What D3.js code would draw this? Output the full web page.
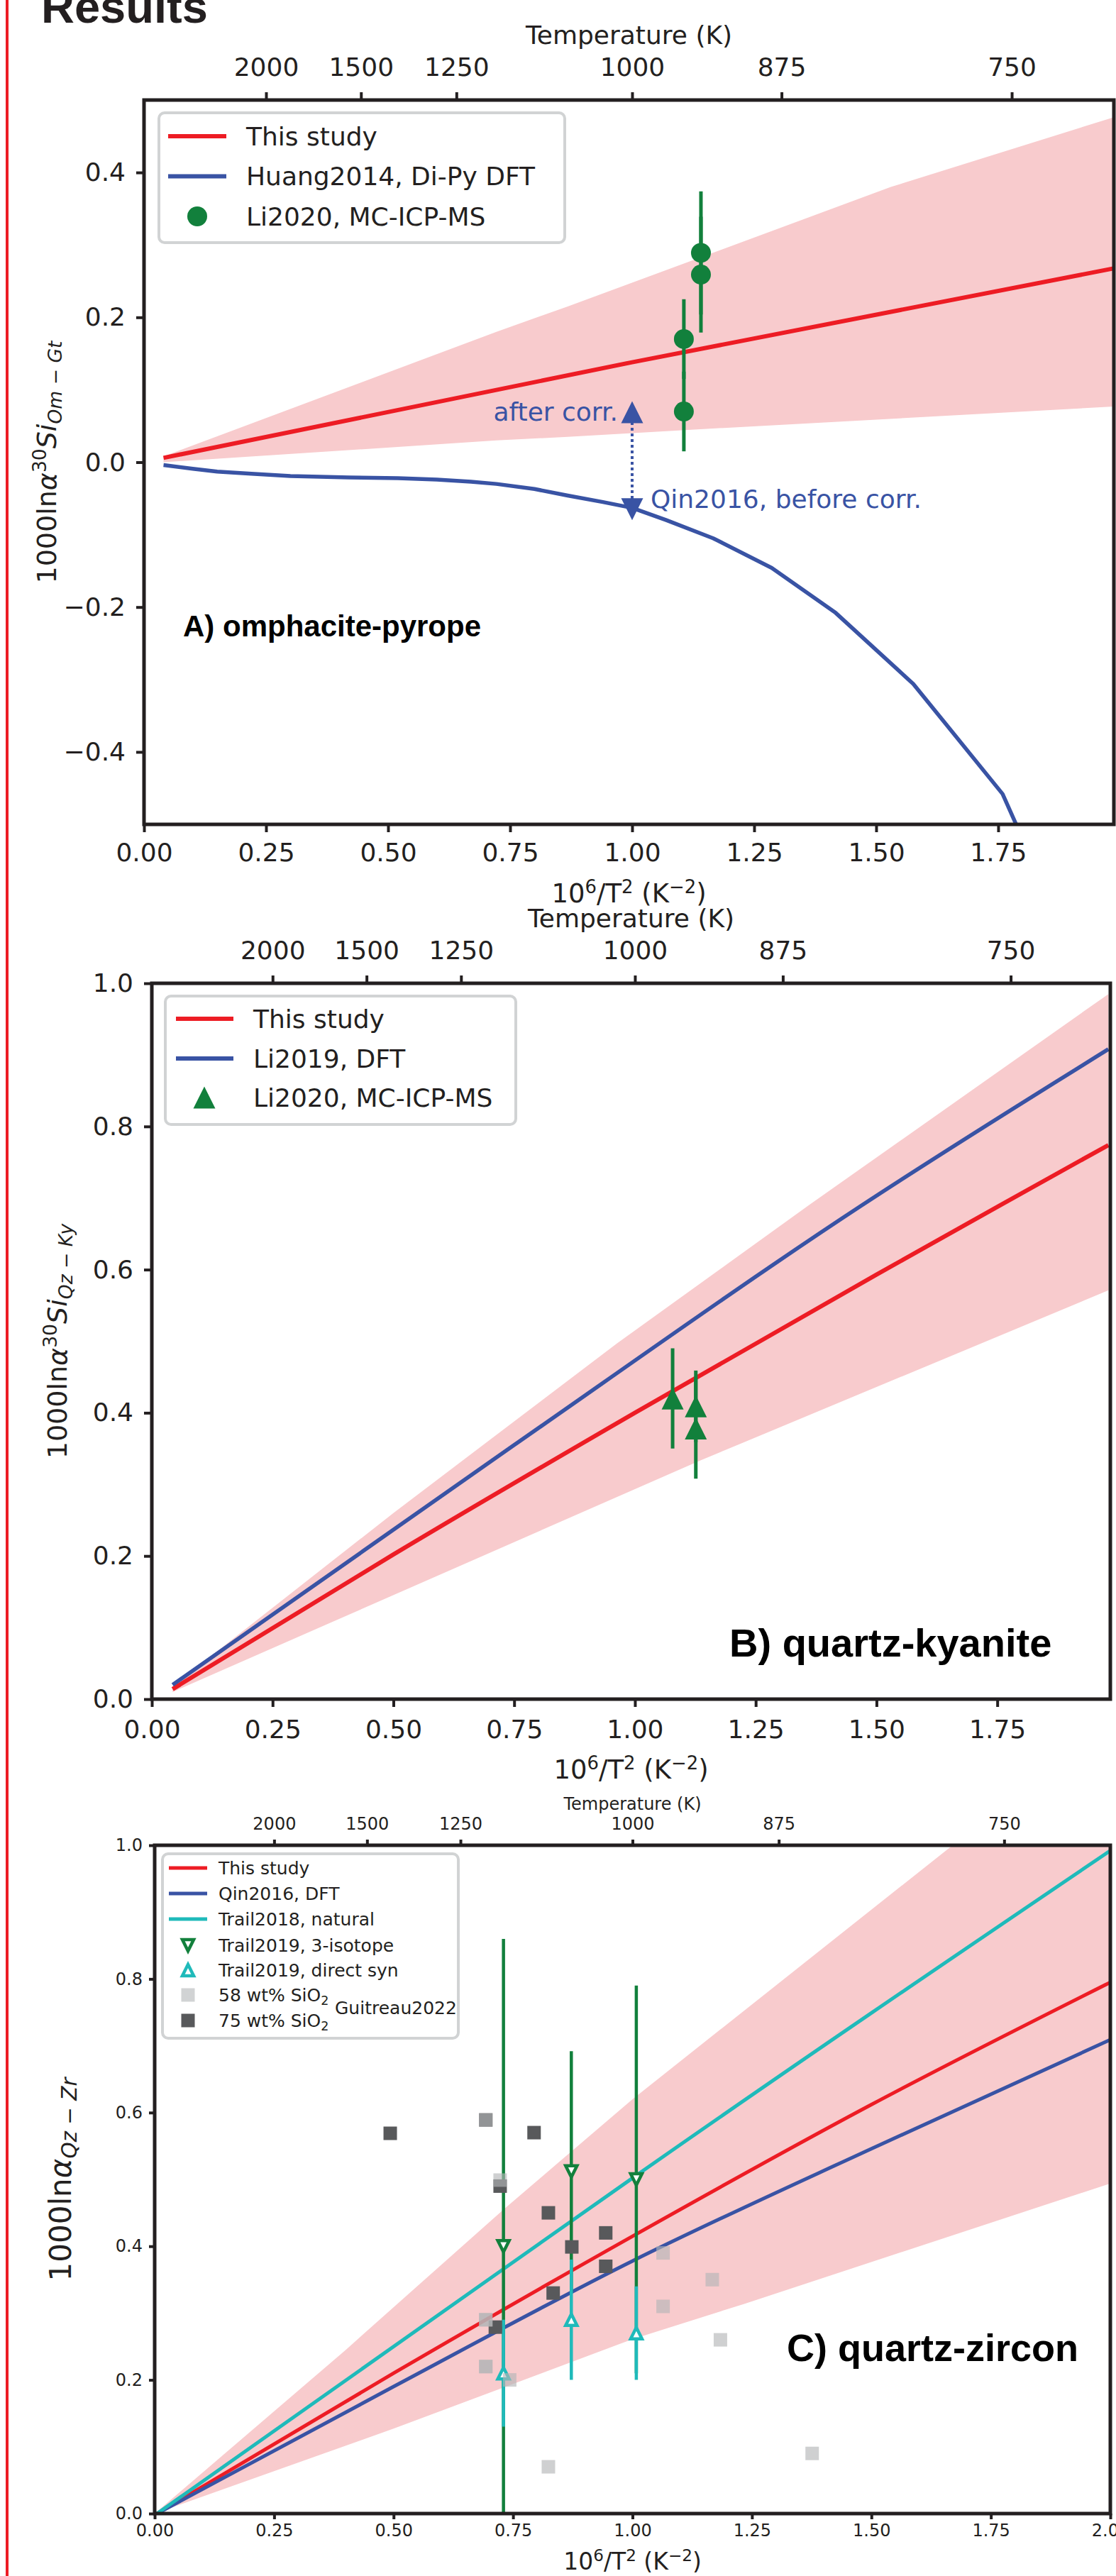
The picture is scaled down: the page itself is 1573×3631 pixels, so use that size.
<!DOCTYPE html>
<html>
<head>
<meta charset="utf-8">
<script src="https://cdn.jsdelivr.net/npm/d3@7"></script>
<style>
  body { margin: 0; background: #fff; }
  svg { display: block; }
</style>
</head>
<body>
<div id="chart"></div>
<script>
// ---------- shared ticks ----------
const tempTicks = [2000, 1500, 1250, 1000, 875, 750];
const xTicksAB = [0, 0.25, 0.5, 0.75, 1.0, 1.25, 1.5, 1.75];
const xTicksC = [0, 0.25, 0.5, 0.75, 1.0, 1.25, 1.5, 1.75, 2.0];
const yTicksA = [-0.4, -0.2, 0.0, 0.2, 0.4];
const yTicksB = [0.0, 0.2, 0.4, 0.6, 0.8, 1.0];
const yTicksC = [0.0, 0.2, 0.4, 0.6, 0.8, 1.0];

// ---------- panel A: omphacite-pyrope ----------
const aThisStudy = [[0.04, 0.006], [1.0, 0.138], [1.99, 0.268]];
const aBandUpper = [[0.04, 0.008], [0.722, 0.18], [0.868, 0.215], [1.53, 0.38], [1.99, 0.477]];
const aBandLower = [[0.04, 0.0], [0.722, 0.03], [0.868, 0.035], [1.127, 0.045], [1.99, 0.077]];
const aHuang2014 = [[0.04, -0.004], [0.1, -0.009], [0.15, -0.013], [0.22, -0.016], [0.3, -0.019],
  [0.42, -0.021], [0.52, -0.022], [0.6, -0.024], [0.67, -0.027], [0.722, -0.030], [0.8, -0.037],
  [0.868, -0.046], [0.94, -0.055], [1.0, -0.063], [1.07, -0.080], [1.166, -0.105], [1.286, -0.146],
  [1.417, -0.208], [1.576, -0.306], [1.759, -0.458], [1.80, -0.52]];
const aLi2020 = [[1.141, 0.289, 0.085], [1.141, 0.259, 0.08], [1.106, 0.170, 0.055], [1.106, 0.070, 0.055]];
const aQinAfter = [1.0, 0.069];
const aQinBefore = [1.0, -0.065];

// ---------- panel B: quartz-kyanite ----------
const bThisStudy = [[0.043, 0.014], [0.5, 0.202], [1.0, 0.40], [1.5, 0.593], [1.756, 0.69], [1.98, 0.774]];
const bLi2019 = [[0.043, 0.02], [0.75, 0.355], [1.47, 0.69], [1.98, 0.908]];
const bBandUpper = [[0.043, 0.018], [0.5, 0.26], [0.963, 0.497], [1.36, 0.69], [1.98, 0.985]];
const bBandLower = [[0.043, 0.01], [1.134, 0.333], [1.98, 0.571]];
const bLi2020 = [[1.078, 0.42, 0.07], [1.126, 0.409, 0.05], [1.126, 0.378, 0.07]];

// ---------- panel C: quartz-zircon ----------
const cThisStudy = [[0.005, 0.0], [0.5, 0.21], [1.0, 0.415], [1.5, 0.612], [2.0, 0.795]];
const cQin2016 = [[0.005, 0.0], [0.5, 0.19], [1.0, 0.378], [1.5, 0.546], [2.0, 0.709]];
const cTrail2018 = [[0.005, 0.0], [0.73, 0.366], [1.0, 0.502], [2.0, 0.992]];
const cBandUpper = [[0.0, 0.0], [0.4, 0.245], [0.73, 0.455], [1.0, 0.62], [1.67, 1.0], [2.0, 1.19]];
const cBandLower = [[0.0, 0.0], [0.5, 0.127], [1.0, 0.261], [1.235, 0.314], [2.0, 0.494]];
const cTrail3iso = [[0.730, 0.400, 0.46], [0.872, 0.512, 0.18], [1.008, 0.500, 0.29]];
const cTrailSyn = [[0.730, 0.210, 0.08], [0.872, 0.290, 0.09], [1.008, 0.270, 0.07]];
const cGuit75 = [[0.493, 0.569], [0.794, 0.570], [0.693, 0.589], [0.723, 0.490], [0.824, 0.450],
  [0.873, 0.399], [0.944, 0.420], [0.944, 0.370], [0.834, 0.330], [0.713, 0.279]];
const cGuit58 = [[0.693, 0.589], [0.723, 0.499], [0.693, 0.290], [0.693, 0.290], [0.693, 0.220],
  [0.693, 0.220], [0.743, 0.200], [0.824, 0.070], [1.064, 0.390], [1.064, 0.310], [1.167, 0.350],
  [1.184, 0.260], [1.376, 0.090]];

// ---------- drawing ----------
const W = 1573, H = 3631;
const ink = '#231f20', red = '#ed1c24', blue = '#3953a4', cyan = '#1fbaba', green = '#12803c', pink = '#f8cbcd';
const font = '"DejaVu Sans", sans-serif';
const boldFont = '"Liberation Sans", Arial, sans-serif';
const NB = '\u00a0';

const svg = d3.select('#chart').append('svg')
  .attr('width', W).attr('height', H)
  .attr('font-family', font);

// page decoration
svg.append('line').attr('x1', 10).attr('x2', 10).attr('y1', 0).attr('y2', H)
  .attr('stroke', red).attr('stroke-width', 4);
svg.append('text').attr('x', 58).attr('y', 32)
  .attr('font-family', boldFont).attr('font-weight', 'bold').attr('font-size', 65)
  .attr('fill', ink).text('Results');

function rich(text, parts, fs) {
  let shift = 0;
  parts.forEach(p => {
    const small = p.sup || p.sub;
    const target = p.sup ? -0.36 * fs : p.sub ? 0.2 * fs : 0;
    text.append('tspan')
      .attr('dy', target - shift)
      .attr('font-size', small ? fs * 0.7 : fs)
      .attr('font-style', p.it ? 'italic' : null)
      .text(p.t);
    shift = target;
  });
}

function makePanel(p) {
  const x = d3.scaleLinear().domain([0, p.xMax]).range([p.left, p.right]);
  const y = d3.scaleLinear().domain(p.yDomain).range([p.bottom, p.top]);
  svg.append('clipPath').attr('id', 'clip-' + p.id)
    .append('rect').attr('x', p.left).attr('y', p.top)
    .attr('width', p.right - p.left).attr('height', p.bottom - p.top);
  const plot = svg.append('g').attr('clip-path', `url(#clip-${p.id})`);
  return { x, y, plot };
}

function drawAxes(p, s) {
  const g = svg.append('g');
  g.append('g').attr('transform', `translate(0,${p.bottom})`)
    .call(d3.axisBottom(s.x).tickValues(p.xTicks).tickFormat(d3.format('.2f'))
      .tickSize(p.tick).tickPadding(p.padB).tickSizeOuter(0));
  g.append('g').attr('transform', `translate(${p.left},0)`)
    .call(d3.axisLeft(s.y).tickValues(p.yTicks).tickFormat(d3.format('.1f'))
      .tickSize(p.tick).tickPadding(p.padL).tickSizeOuter(0));
  g.append('g').attr('transform', `translate(0,${p.top})`)
    .call(d3.axisTop(s.x).tickValues(tempTicks.map(t => 1e6 / (t * t)))
      .tickFormat((d, i) => tempTicks[i]).tickSize(p.tick).tickPadding(p.padT).tickSizeOuter(0));
  g.selectAll('.domain').remove();
  g.selectAll('.tick line').attr('stroke', ink).attr('stroke-width', 4);
  g.selectAll('.tick text').attr('fill', ink).attr('font-size', p.fs).attr('font-family', font);
  g.append('rect').attr('x', p.left).attr('y', p.top)
    .attr('width', p.right - p.left).attr('height', p.bottom - p.top)
    .attr('fill', 'none').attr('stroke', ink).attr('stroke-width', 5);

  const cx = (p.left + p.right) / 2;
  svg.append('text').attr('x', cx).attr('y', p.topLabelY).attr('text-anchor', 'middle')
    .attr('font-size', p.topLabelFs).attr('fill', ink).text('Temperature (K)');
  const xl = svg.append('text').attr('x', cx).attr('y', p.xLabelY).attr('text-anchor', 'middle')
    .attr('font-size', p.xLabelFs).attr('fill', ink);
  rich(xl, [{ t: '10' }, { t: '6', sup: true }, { t: '/T' }, { t: '2', sup: true }, { t: ' (K' },
    { t: '\u22122', sup: true }, { t: ')' }], p.xLabelFs);

  const yl = svg.append('text')
    .attr('transform', `translate(${p.yLabelX},${(p.top + p.bottom) / 2}) rotate(-90)`)
    .attr('text-anchor', 'middle').attr('font-size', p.yLabelFs).attr('fill', ink);
  rich(yl, p.yLabel, p.yLabelFs);

  svg.append('text').attr('x', p.tagX).attr('y', p.tagY)
    .attr('font-family', boldFont).attr('font-weight', 'bold').attr('font-size', p.tagFs)
    .attr('fill', '#000').text(p.tag);
}

const line = (s) => d3.line().curve(d3.curveMonotoneX).x(d => s.x(d[0])).y(d => s.y(d[1]));
const polyline = (s) => d3.line().x(d => s.x(d[0])).y(d => s.y(d[1]));
function band(s, upper, lower) {
  const pts = upper.concat(lower.slice().reverse());
  return 'M' + pts.map(d => s.x(d[0]) + ',' + s.y(d[1])).join('L') + 'Z';
}
function triPath(w, h, down) {
  const a = down ? -1 : 1;
  return `M0,${-a * h / 2}L${w / 2},${a * h / 2}L${-w / 2},${a * h / 2}Z`;
}
function legendBox(b) {
  svg.append('rect').attr('x', b.x).attr('y', b.y).attr('width', b.w).attr('height', b.h)
    .attr('rx', 8).attr('fill', '#fff').attr('fill-opacity', 0.9)
    .attr('stroke', '#d1d3d4').attr('stroke-width', 4);
}
function legendText(x, y, label, fs) {
  const t = svg.append('text').attr('x', x).attr('y', y + fs * 0.36)
    .attr('font-size', fs).attr('fill', ink);
  if (Array.isArray(label)) rich(t, label, fs); else t.text(label);
}

// ===== Panel A =====
const pA = {
  id: 'a', left: 203, right: 1570, top: 141, bottom: 1162, xMax: 1.987, yDomain: [-0.5, 0.5],
  xTicks: xTicksAB, yTicks: yTicksA, fs: 36, tick: 11, padB: 15, padL: 15, padT: 23,
  topLabelY: 62, topLabelFs: 36, xLabelY: 1272, xLabelFs: 37,
  yLabelX: 79, yLabelFs: 38,
  yLabel: [{ t: '1000ln' }, { t: '\u03b1', it: true }, { t: '30', sup: true }, { t: 'Si', it: true },
    { t: 'Om' + NB + '\u2212' + NB + 'Gt', sub: true, it: true }],
  tag: 'A) omphacite-pyrope', tagX: 258, tagY: 897, tagFs: 42
};
const sA = makePanel(pA);
sA.plot.append('path').attr('d', band(sA, aBandUpper, aBandLower)).attr('fill', pink);
sA.plot.append('path').datum(aThisStudy).attr('d', polyline(sA)).attr('fill', 'none')
  .attr('stroke', red).attr('stroke-width', 6);
sA.plot.append('path').datum(aHuang2014).attr('d', polyline(sA)).attr('fill', 'none')
  .attr('stroke', blue).attr('stroke-width', 5.5).attr('stroke-linejoin', 'round');
sA.plot.selectAll('line.errA').data(aLi2020).enter().append('line')
  .attr('x1', d => sA.x(d[0])).attr('x2', d => sA.x(d[0]))
  .attr('y1', d => sA.y(d[1] - d[2])).attr('y2', d => sA.y(d[1] + d[2]))
  .attr('stroke', green).attr('stroke-width', 5);
sA.plot.selectAll('circle.li').data(aLi2020).enter().append('circle')
  .attr('cx', d => sA.x(d[0])).attr('cy', d => sA.y(d[1])).attr('r', 14).attr('fill', green);
// correction arrow
sA.plot.append('line')
  .attr('x1', sA.x(aQinAfter[0])).attr('x2', sA.x(aQinBefore[0]))
  .attr('y1', sA.y(aQinAfter[1]) + 14).attr('y2', sA.y(aQinBefore[1]) - 14)
  .attr('stroke', blue).attr('stroke-width', 4).attr('stroke-dasharray', '4,4');
sA.plot.append('path').attr('d', triPath(31, 31, false))
  .attr('transform', `translate(${sA.x(aQinAfter[0])},${sA.y(aQinAfter[1])})`).attr('fill', blue);
sA.plot.append('path').attr('d', triPath(31, 31, true))
  .attr('transform', `translate(${sA.x(aQinBefore[0])},${sA.y(aQinBefore[1])})`).attr('fill', blue);
svg.append('text').attr('x', sA.x(aQinAfter[0]) - 20).attr('y', sA.y(aQinAfter[1]) + 12)
  .attr('text-anchor', 'end').attr('font-size', 36).attr('fill', blue).text('after corr.');
svg.append('text').attr('x', sA.x(aQinBefore[0]) + 26).attr('y', sA.y(aQinBefore[1]) - 2)
  .attr('font-size', 36).attr('fill', blue).text('Qin2016, before corr.');
drawAxes(pA, sA);
legendBox({ x: 224, y: 159, w: 572, h: 183 });
[[192, red, 'This study'], [248.5, blue, 'Huang2014, Di-Py DFT']].forEach(r => {
  svg.append('line').attr('x1', 237).attr('x2', 319).attr('y1', r[0]).attr('y2', r[0])
    .attr('stroke', r[1]).attr('stroke-width', 6);
  legendText(347, r[0], r[2], 36);
});
svg.append('circle').attr('cx', 278).attr('cy', 305).attr('r', 14).attr('fill', green);
legendText(347, 305, 'Li2020, MC-ICP-MS', 36);

// ===== Panel B =====
const pB = {
  id: 'b', left: 214, right: 1565, top: 1386, bottom: 2395, xMax: 1.984, yDomain: [0, 1],
  xTicks: xTicksAB, yTicks: yTicksB, fs: 36, tick: 11, padB: 18, padL: 15, padT: 23,
  topLabelY: 1307, topLabelFs: 36, xLabelY: 2507, xLabelFs: 37,
  yLabelX: 94, yLabelFs: 38,
  yLabel: [{ t: '1000ln' }, { t: '\u03b1', it: true }, { t: '30', sup: true }, { t: 'Si', it: true },
    { t: 'Qz' + NB + '\u2212' + NB + 'Ky', sub: true, it: true }],
  tag: 'B) quartz-kyanite', tagX: 1028, tagY: 2335, tagFs: 56
};
const sB = makePanel(pB);
sB.plot.append('path').attr('d', band(sB, bBandUpper, bBandLower)).attr('fill', pink);
sB.plot.append('path').datum(bThisStudy).attr('d', line(sB)).attr('fill', 'none')
  .attr('stroke', red).attr('stroke-width', 6);
sB.plot.append('path').datum(bLi2019).attr('d', line(sB)).attr('fill', 'none')
  .attr('stroke', blue).attr('stroke-width', 5.5);
sB.plot.selectAll('line.errB').data(bLi2020).enter().append('line')
  .attr('x1', d => sB.x(d[0])).attr('x2', d => sB.x(d[0]))
  .attr('y1', d => sB.y(d[1] - d[2])).attr('y2', d => sB.y(d[1] + d[2]))
  .attr('stroke', green).attr('stroke-width', 5);
sB.plot.selectAll('path.triB').data(bLi2020).enter().append('path')
  .attr('d', triPath(31, 31, false))
  .attr('transform', d => `translate(${sB.x(d[0])},${sB.y(d[1])})`).attr('fill', green);
drawAxes(pB, sB);
legendBox({ x: 233, y: 1404, w: 494, h: 181 });
[[1436, red, 'This study'], [1492, blue, 'Li2019, DFT']].forEach(r => {
  svg.append('line').attr('x1', 248).attr('x2', 329).attr('y1', r[0]).attr('y2', r[0])
    .attr('stroke', r[1]).attr('stroke-width', 6);
  legendText(357, r[0], r[2], 36);
});
svg.append('path').attr('d', triPath(31, 31, false)).attr('transform', 'translate(288,1547)').attr('fill', green);
legendText(357, 1547, 'Li2020, MC-ICP-MS', 36);

// ===== Panel C =====
const pC = {
  id: 'c', left: 218, right: 1565, top: 2601, bottom: 3543, xMax: 2.0, yDomain: [0, 1],
  xTicks: xTicksC, yTicks: yTicksC, fs: 24, tick: 8, padB: 7, padL: 9, padT: 14,
  topLabelY: 2551, topLabelFs: 24, xLabelY: 3622, xLabelFs: 33,
  yLabelX: 100, yLabelFs: 42,
  yLabel: [{ t: '1000ln' }, { t: '\u03b1', it: true },
    { t: 'Qz' + NB + '\u2212' + NB + 'Zr', sub: true, it: true }],
  tag: 'C) quartz-zircon', tagX: 1109, tagY: 3328, tagFs: 54
};
const sC = makePanel(pC);
sC.plot.append('path').attr('d', band(sC, cBandUpper, cBandLower)).attr('fill', pink);
[[cThisStudy, red], [cQin2016, blue], [cTrail2018, cyan]].forEach(l => {
  sC.plot.append('path').datum(l[0]).attr('d', line(sC)).attr('fill', 'none')
    .attr('stroke', l[1]).attr('stroke-width', 5);
});
function openTriangles(data, color, down) {
  sC.plot.append('g').selectAll('line').data(data).enter().append('line')
    .attr('x1', d => sC.x(d[0])).attr('x2', d => sC.x(d[0]))
    .attr('y1', d => sC.y(d[1] - d[2])).attr('y2', d => sC.y(d[1] + d[2]))
    .attr('stroke', color).attr('stroke-width', 4.5);
  sC.plot.append('g').selectAll('path').data(data).enter().append('path')
    .attr('d', triPath(16, 16, down))
    .attr('transform', d => `translate(${sC.x(d[0])},${sC.y(d[1])})`)
    .attr('fill', '#fff').attr('stroke', color).attr('stroke-width', 4.5);
}
openTriangles(cTrail3iso, green, true);
openTriangles(cTrailSyn, cyan, false);
sC.plot.append('g').selectAll('rect').data(cGuit75).enter().append('rect')
  .attr('x', d => sC.x(d[0]) - 9.5).attr('y', d => sC.y(d[1]) - 9.5)
  .attr('width', 19).attr('height', 19).attr('fill', '#58595b');
sC.plot.append('g').selectAll('rect').data(cGuit58).enter().append('rect')
  .attr('x', d => sC.x(d[0]) - 9.5).attr('y', d => sC.y(d[1]) - 9.5)
  .attr('width', 19).attr('height', 19).attr('fill', '#b4b5b7').attr('fill-opacity', 0.64);
drawAxes(pC, sC);
legendBox({ x: 229, y: 2613, w: 417, h: 260 });
[[2633, red, 'This study'], [2669, blue, 'Qin2016, DFT'], [2705, cyan, 'Trail2018, natural']].forEach(r => {
  svg.append('line').attr('x1', 238).attr('x2', 292).attr('y1', r[0]).attr('y2', r[0])
    .attr('stroke', r[1]).attr('stroke-width', 5);
  legendText(308, r[0], r[2], 25);
});
svg.append('path').attr('d', triPath(16, 16, true)).attr('transform', 'translate(265,2742)')
  .attr('fill', '#fff').attr('stroke', green).attr('stroke-width', 4.5);
legendText(308, 2742, 'Trail2019, 3-isotope', 25);
svg.append('path').attr('d', triPath(16, 16, false)).attr('transform', 'translate(265,2777)')
  .attr('fill', '#fff').attr('stroke', cyan).attr('stroke-width', 4.5);
legendText(308, 2777, 'Trail2019, direct syn', 25);
svg.append('rect').attr('x', 255.5).attr('y', 2802.5).attr('width', 19).attr('height', 19).attr('fill', '#d1d3d4');
legendText(308, 2812, [{ t: '58 wt% SiO' }, { t: '2', sub: true }], 25);
svg.append('rect').attr('x', 255.5).attr('y', 2838.5).attr('width', 19).attr('height', 19).attr('fill', '#58595b');
legendText(308, 2848, [{ t: '75 wt% SiO' }, { t: '2', sub: true }], 25);
legendText(472, 2830, 'Guitreau2022', 25);
</script>
</body>
</html>
